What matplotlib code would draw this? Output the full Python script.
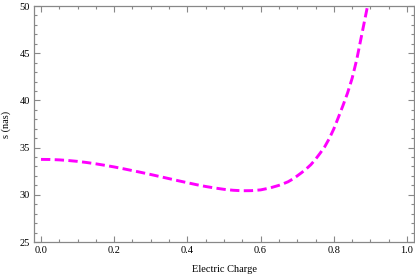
import numpy as np
import matplotlib.pyplot as plt
from matplotlib.ticker import MultipleLocator

# electric charge vs s (nas)
charge = [0.000, 0.025, 0.050, 0.075, 0.100, 0.125, 0.150, 0.175, 0.200,
          0.225, 0.250, 0.275, 0.300, 0.325, 0.350, 0.375, 0.400, 0.425,
          0.450, 0.475, 0.500, 0.525, 0.550, 0.575, 0.600, 0.625, 0.650,
          0.6625, 0.675, 0.6875, 0.700, 0.7125, 0.725, 0.7375, 0.750,
          0.7625, 0.775, 0.7875, 0.800, 0.8125, 0.825, 0.8375, 0.850,
          0.8625, 0.875, 0.8875, 0.900]
s_nas = [33.75, 33.74, 33.70, 33.63, 33.54, 33.42, 33.28, 33.12, 32.95,
         32.76, 32.56, 32.36, 32.15, 31.93, 31.71, 31.49, 31.28, 31.07,
         30.88, 30.72, 30.58, 30.48, 30.43, 30.44, 30.52, 30.72, 31.00,
         31.18, 31.38, 31.66, 32.00, 32.36, 32.75, 33.20, 33.76,
         34.40, 35.08, 35.95, 36.98, 38.20, 39.45, 40.78, 42.33,
         44.30, 46.70, 49.10, 51.50]

plt.rcParams['font.family'] = ['Liberation Serif', 'DejaVu Serif']
plt.rcParams['font.size'] = 7.5

fig = plt.figure(figsize=(4.15, 2.78), dpi=100)
ax = fig.add_axes([34 / 415, 36 / 278, 380 / 415, 236 / 278])

ax.plot(charge, s_nas, color='#FF00FF', lw=2.1, dashes=(3.2, 1.5),
        dash_capstyle='butt', solid_joinstyle='round')

ax.set_xlim(-0.0191, 1.0191)
ax.set_ylim(25, 50)
ax.xaxis.set_major_locator(MultipleLocator(0.2))
ax.xaxis.set_minor_locator(MultipleLocator(0.05))
ax.yaxis.set_major_locator(MultipleLocator(5))
ax.yaxis.set_minor_locator(MultipleLocator(1))
ax.xaxis.set_major_formatter(plt.FuncFormatter(lambda v, p: f"{v:.1f}"))

frame = '#888888'
for sp in ax.spines.values():
    sp.set_color(frame)
    sp.set_linewidth(0.9)
ax.tick_params(which='both', direction='in', top=True, right=True,
               color=frame, width=0.8, labelcolor='black')
ax.tick_params(which='major', length=4, pad=3)
ax.tick_params(which='minor', length=2)

ax.set_xlabel('Electric Charge', labelpad=7)
ax.set_ylabel('s (nas)', labelpad=6)

fig.savefig('out.png', dpi=100)
